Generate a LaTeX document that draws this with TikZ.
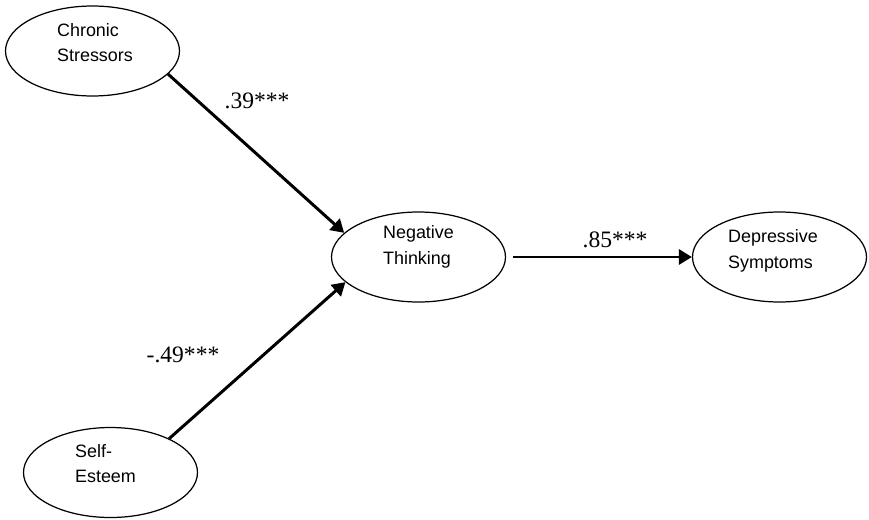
\documentclass[tikz,border=0pt]{standalone}
\usepackage{fontspec}
\setmainfont{Liberation Serif}
\setsansfont{Liberation Sans}
\usetikzlibrary{shapes.geometric,arrows.meta}
\begin{document}
\begin{tikzpicture}[
    latent/.style={draw,ellipse,line width=0.7pt,minimum width=3.48cm,minimum height=1.8cm,inner sep=0pt},
    vname/.style={align=left,inner sep=0pt,font=\sffamily\fontsize{10.2}{14.6}\selectfont},
    coef/.style={inner sep=0pt,font=\fontsize{13.4}{16}\selectfont},
    regr/.style={line width=1.7pt,-{Triangle[length=0.26cm,width=0.3cm]}}]
    \useasboundingbox (0,0) rectangle (17.38,10.38);
    \node[latent] (cs) at (1.85,9.36) {};
    \node[latent] (se) at (2.21,0.93) {};
    \node[latent] (nt) at (8.37,5.24) {};
    \node[latent] (ds) at (15.59,5.24) {};
    \node[vname] (cs-t) at ([xshift=0.05cm,yshift=0.17cm]cs.center) {Chronic\\Stressors};
    \node[vname] (se-t) at ([xshift=-0.1cm,yshift=0.18cm]se.center) {Self-\\Esteem};
    \node[vname] (nt-t) at ([yshift=0.2cm]nt.center) {Negative\\Thinking};
    \node[vname] (ds-t) at ([xshift=-0.13cm,yshift=0.12cm]ds.center) {Depressive\\Symptoms};
    \draw[regr] (cs.-17) -- (nt.162);
    \draw[regr] (se.30) -- (nt.199);
    \draw[regr,shorten <=0.14cm] (nt.east) -- (ds.west);
    \node[coef] (b-cs) at (5.14,8.36) {.39***};
    \node[coef] (b-se) at (3.66,3.28) {-.49***};
    \node[coef] (b-nt) at (12.30,5.58) {.85***};
\end{tikzpicture}
\end{document}
